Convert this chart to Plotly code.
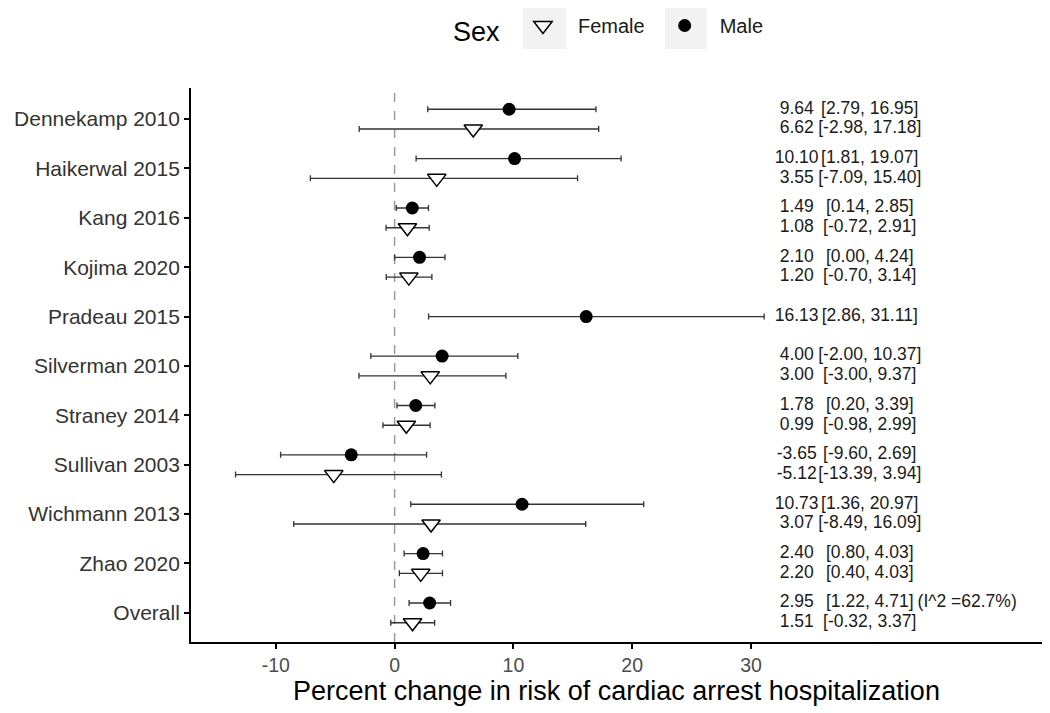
import plotly.graph_objects as go

# ---------------- data ----------------
studies = ["Dennekamp 2010", "Haikerwal 2015", "Kang 2016", "Kojima 2020",
           "Pradeau 2015", "Silverman 2010", "Straney 2014", "Sullivan 2003",
           "Wichmann 2013", "Zhao 2020", "Overall"]
male_est = [9.64, 10.10, 1.49, 2.10, 16.13, 4.00, 1.78, -3.65, 10.73, 2.40, 2.95]
male_lo = [2.79, 1.81, 0.14, 0.00, 2.86, -2.00, 0.20, -9.60, 1.36, 0.80, 1.22]
male_hi = [16.95, 19.07, 2.85, 4.24, 31.11, 10.37, 3.39, 2.69, 20.97, 4.03, 4.71]
female_est = [6.62, 3.55, 1.08, 1.20, None, 3.00, 0.99, -5.12, 3.07, 2.20, 1.51]
female_lo = [-2.98, -7.09, -0.72, -0.70, None, -3.00, -0.98, -13.39, -8.49, 0.40, -0.32]
female_hi = [17.18, 15.40, 2.91, 3.14, None, 9.37, 2.99, 3.94, 16.09, 4.03, 3.37]
i2_text = "(I^2 =62.7%)"
x_ticks = [-10, 0, 10, 20, 30]

# ---------------- layout helpers ----------------
n = len(studies)
pos = [n - i for i in range(n)]          # Dennekamp at top
DODGE = 0.2
EST_X, CI_X, I2_X = 33.85, 40.0, 48.2

m_y, m_x, m_plus, m_minus, m_est_t, m_ci_t = [], [], [], [], [], []
f_y, f_x, f_plus, f_minus, f_est_t, f_ci_t = [], [], [], [], [], []
for i in range(n):
    has_f = female_est[i] is not None
    ym = pos[i] + (DODGE if has_f else 0)
    m_y.append(ym)
    m_x.append(male_est[i])
    m_plus.append(male_hi[i] - male_est[i])
    m_minus.append(male_est[i] - male_lo[i])
    m_est_t.append(f"{male_est[i]:.2f}")
    m_ci_t.append(f"[{male_lo[i]:.2f}, {male_hi[i]:.2f}]")
    if has_f:
        f_y.append(pos[i] - DODGE)
        f_x.append(female_est[i])
        f_plus.append(female_hi[i] - female_est[i])
        f_minus.append(female_est[i] - female_lo[i])
        f_est_t.append(f"{female_est[i]:.2f}")
        f_ci_t.append(f"[{female_lo[i]:.2f}, {female_hi[i]:.2f}]")

FONT = "Arial, Liberation Sans, sans-serif"
ERR = "#333333"

fig = go.Figure()

fig.add_trace(go.Scatter(
    x=f_x, y=f_y, mode="markers", name="Female",
    marker=dict(symbol="triangle-down", size=16, color="white",
                line=dict(color="black", width=1.5)),
    error_x=dict(type="data", symmetric=False, array=f_plus, arrayminus=f_minus,
                 color=ERR, thickness=1.3, width=3),
))
fig.add_trace(go.Scatter(
    x=m_x, y=m_y, mode="markers", name="Male",
    marker=dict(symbol="circle", size=13, color="black"),
    error_x=dict(type="data", symmetric=False, array=m_plus, arrayminus=m_minus,
                 color=ERR, thickness=1.3, width=3),
))

txt_font = dict(family=FONT, size=17.5, color="#1a1a1a")
for xs, ys, ts in [([EST_X] * len(m_y), m_y, m_est_t), ([CI_X] * len(m_y), m_y, m_ci_t),
                   ([EST_X] * len(f_y), f_y, f_est_t), ([CI_X] * len(f_y), f_y, f_ci_t),
                   ([I2_X], [m_y[-1]], [i2_text])]:
    fig.add_trace(go.Scatter(x=xs, y=ys, mode="text", text=ts,
                             textposition="middle center", textfont=txt_font,
                             showlegend=False, hoverinfo="skip"))

# reference line at 0
fig.add_shape(type="line", xref="x", yref="paper", x0=0, x1=0, y0=0, y1=1,
              line=dict(color="#9a9a9a", width=1.5, dash="dash"), layer="below")

# legend key backgrounds
for x0, x1 in [(0.390, 0.4407), (0.557, 0.6063)]:
    fig.add_shape(type="rect", xref="paper", yref="paper", x0=x0, x1=x1,
                  y0=1.0704, y1=1.146, fillcolor="#f2f2f2", line=dict(width=0),
                  layer="below")

# page body has an 8px margin, so the figure is sized/offset to compensate
fig.update_layout(
    width=1042, height=705,
    margin=dict(l=183, r=8, t=80, b=71, autoexpand=False),
    paper_bgcolor="white", plot_bgcolor="white",
    font=dict(family=FONT, color="black"),
    showlegend=True,
    legend=dict(orientation="h", x=0.4923, xanchor="center", y=1.1065, yanchor="middle",
                title=dict(text="Sex", font=dict(size=27, color="black"), side="left"),
                font=dict(size=20, color="#1a1a1a"),
                bgcolor="rgba(0,0,0,0)", itemwidth=60, traceorder="normal"),
    xaxis=dict(range=[-17.14, 54.5], tickvals=x_ticks, ticktext=[str(t) for t in x_ticks],
               showgrid=False, zeroline=False, showline=True, linecolor="black",
               linewidth=1.8, ticks="outside", ticklen=5, tickwidth=1.5, tickcolor="black",
               tickfont=dict(size=19.5, color="#4d4d4d"), automargin=False,
               title=dict(text="Percent change in risk of cardiac arrest hospitalization",
                          font=dict(size=27, color="black"), standoff=6)),
    yaxis=dict(range=[0.41, 11.63], tickvals=pos, ticktext=studies, automargin=False,
               showgrid=False, zeroline=False, showline=True, linecolor="black",
               linewidth=1.8, ticks="outside", ticklen=5, tickwidth=1.5, tickcolor="black",
               tickfont=dict(size=21, color="#333333")),
)

fig.write_html("out.html")
